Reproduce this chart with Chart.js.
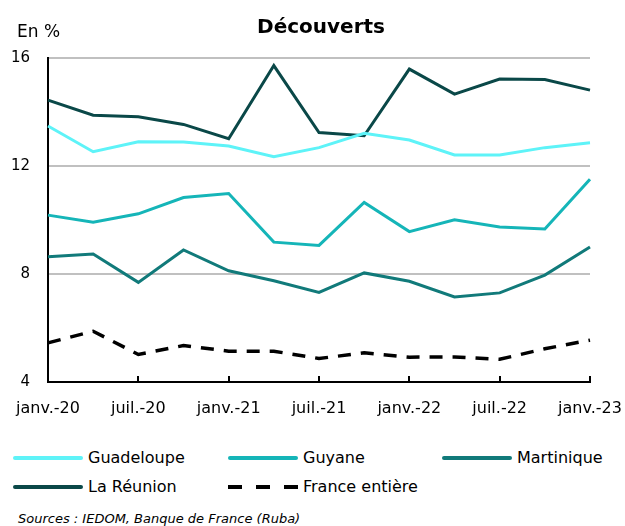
<!DOCTYPE html>
<html lang="fr">
<head>
<meta charset="utf-8">
<script src="https://cdn.jsdelivr.net/npm/chart.js@4/dist/chart.umd.min.js"></script>
<style>
  body { margin: 0; background: #fff; font-family: "DejaVu Sans", sans-serif; }
  #wrap { position: relative; width: 625px; height: 526px; }
  #chartBox { position: absolute; left: 0; top: 0; width: 625px; height: 430px; }
  .item { position: absolute; font-size: 16px; line-height: 18px; color: #000; white-space: nowrap; }
  .swatch { position: absolute; width: 70px; height: 4px; border-radius: 2px; }
  .dash { background: repeating-linear-gradient(90deg, #000 0 14px, transparent 14px 28px); border-radius: 0; }
  #sources { position: absolute; left: 18px; top: 511px; font-size: 13px; font-style: italic; color: #000; }
</style>
</head>
<body>
<div id="wrap">
  <div id="chartBox"><canvas id="chart"></canvas></div>
  <div id="legend"></div>
  <div id="sources">Sources : IEDOM, Banque de France (Ruba)</div>
</div>
<script>
// trimestres, de janv.-20 à janv.-23
const quarters = ['janv.-20', 'avr.-20', 'juil.-20', 'oct.-20', 'janv.-21', 'avr.-21', 'juil.-21',
  'oct.-21', 'janv.-22', 'avr.-22', 'juil.-22', 'oct.-22', 'janv.-23'];

const guadeloupe = [13.48, 12.53, 12.90, 12.89, 12.74, 12.34, 12.68, 13.21, 12.96, 12.41, 12.41, 12.68, 12.86];
const guyane = [10.18, 9.92, 10.23, 10.83, 10.98, 9.18, 9.06, 10.65, 9.57, 10.01, 9.74, 9.67, 11.51];
const martinique = [8.64, 8.74, 7.69, 8.89, 8.12, 7.75, 7.32, 8.04, 7.73, 7.15, 7.30, 7.96, 9.00];
const reunion = [14.44, 13.88, 13.82, 13.54, 13.01, 15.72, 13.24, 13.12, 15.59, 14.66, 15.22, 15.20, 14.81];
const france = [5.45, 5.88, 5.02, 5.35, 5.14, 5.14, 4.87, 5.08, 4.92, 4.93, 4.84, 5.23, 5.55];

const yTicks = [4, 8, 12, 16];

const colors = {
  guadeloupe: '#5ef3f8',
  guyane: '#15b5b8',
  martinique: '#117a7a',
  reunion: '#0a4848',
  france: '#000000'
};

const series = [
  { label: 'Guadeloupe', data: guadeloupe, color: colors.guadeloupe },
  { label: 'Guyane', data: guyane, color: colors.guyane },
  { label: 'Martinique', data: martinique, color: colors.martinique },
  { label: 'La Réunion', data: reunion, color: colors.reunion },
  { label: 'France entière', data: france, color: colors.france, dash: true }
];

// titre, unité et petites graduations vers l'intérieur
const decorations = {
  id: 'decorations',
  afterDraw(chart) {
    const ctx = chart.ctx;
    const x = chart.scales.x;
    const area = chart.chartArea;
    ctx.save();
    ctx.fillStyle = '#000';
    ctx.textBaseline = 'alphabetic';
    ctx.font = 'bold 20px "DejaVu Sans"';
    ctx.textAlign = 'center';
    ctx.fillText('Découverts', 321, 33);
    ctx.font = '17px "DejaVu Sans"';
    ctx.textAlign = 'left';
    ctx.fillText('En %', 17, 37);

    ctx.strokeStyle = '#000';
    ctx.lineWidth = 2;
    quarters.forEach((q, i) => {
      if (i % 2 !== 0) return;
      const px = Math.round(x.getPixelForValue(i));
      ctx.beginPath();
      ctx.moveTo(px, area.bottom - 6);
      ctx.lineTo(px, area.bottom);
      ctx.stroke();
    });
    ctx.restore();
  }
};

const ctx = document.getElementById('chart').getContext('2d');
new Chart(ctx, {
  type: 'line',
  data: {
    labels: quarters,
    datasets: series.map(s => ({
      label: s.label,
      data: s.data,
      borderColor: s.color,
      backgroundColor: s.color,
      borderWidth: s.dash ? 3.5 : 3,
      borderDash: s.dash ? [13, 10] : [],
      pointRadius: 0,
      tension: 0,
      fill: false
    }))
  },
  options: {
    responsive: true,
    maintainAspectRatio: false,
    animation: false,
    layout: { padding: { top: 58, right: 35, bottom: 0, left: 0 } },
    plugins: {
      legend: { display: false },
      title: { display: false },
      tooltip: { enabled: false }
    },
    scales: {
      x: {
        afterFit: s => { s.height = 48; s.paddingLeft = 0; s.paddingRight = 0; },
        grid: { display: true, drawOnChartArea: false, drawTicks: false },
        border: { display: true, color: '#000', width: 2 },
        ticks: {
          autoSkip: false,
          maxRotation: 0,
          padding: 17,
          color: '#000',
          font: { family: 'DejaVu Sans', size: 16 },
          callback: (val, i) => (i % 2 === 0 ? quarters[i] : null)
        }
      },
      y: {
        min: yTicks[0],
        max: yTicks[yTicks.length - 1],
        afterFit: s => { s.width = 48; },
        afterBuildTicks: s => { s.ticks = yTicks.map(v => ({ value: v })); },
        grid: {
          drawTicks: false,
          lineWidth: 2,
          color: c => (c.tick && c.tick.value === yTicks[0] ? 'rgba(0,0,0,0)' : '#c0c0c0')
        },
        border: { display: true, color: '#000', width: 2 },
        ticks: {
          padding: 18,
          color: '#000',
          font: { family: 'DejaVu Sans', size: 15 }
        }
      }
    }
  },
  plugins: [decorations]
});

// légende en grille, comme l'original
const legendPos = [
  { x: 13, y: 458 }, { x: 228, y: 458 }, { x: 442, y: 458 },
  { x: 13, y: 487 }, { x: 228, y: 487 }
];
const legend = document.getElementById('legend');
series.forEach((s, i) => {
  const p = legendPos[i];
  const sw = document.createElement('div');
  sw.className = 'swatch' + (s.dash ? ' dash' : '');
  if (!s.dash) sw.style.background = s.color;
  sw.style.left = p.x + 'px';
  sw.style.top = (p.y - 2) + 'px';
  legend.appendChild(sw);
  const t = document.createElement('div');
  t.className = 'item';
  t.textContent = s.label;
  t.style.left = (p.x + 75) + 'px';
  t.style.top = (p.y - 9) + 'px';
  legend.appendChild(t);
});
</script>
</body>
</html>
